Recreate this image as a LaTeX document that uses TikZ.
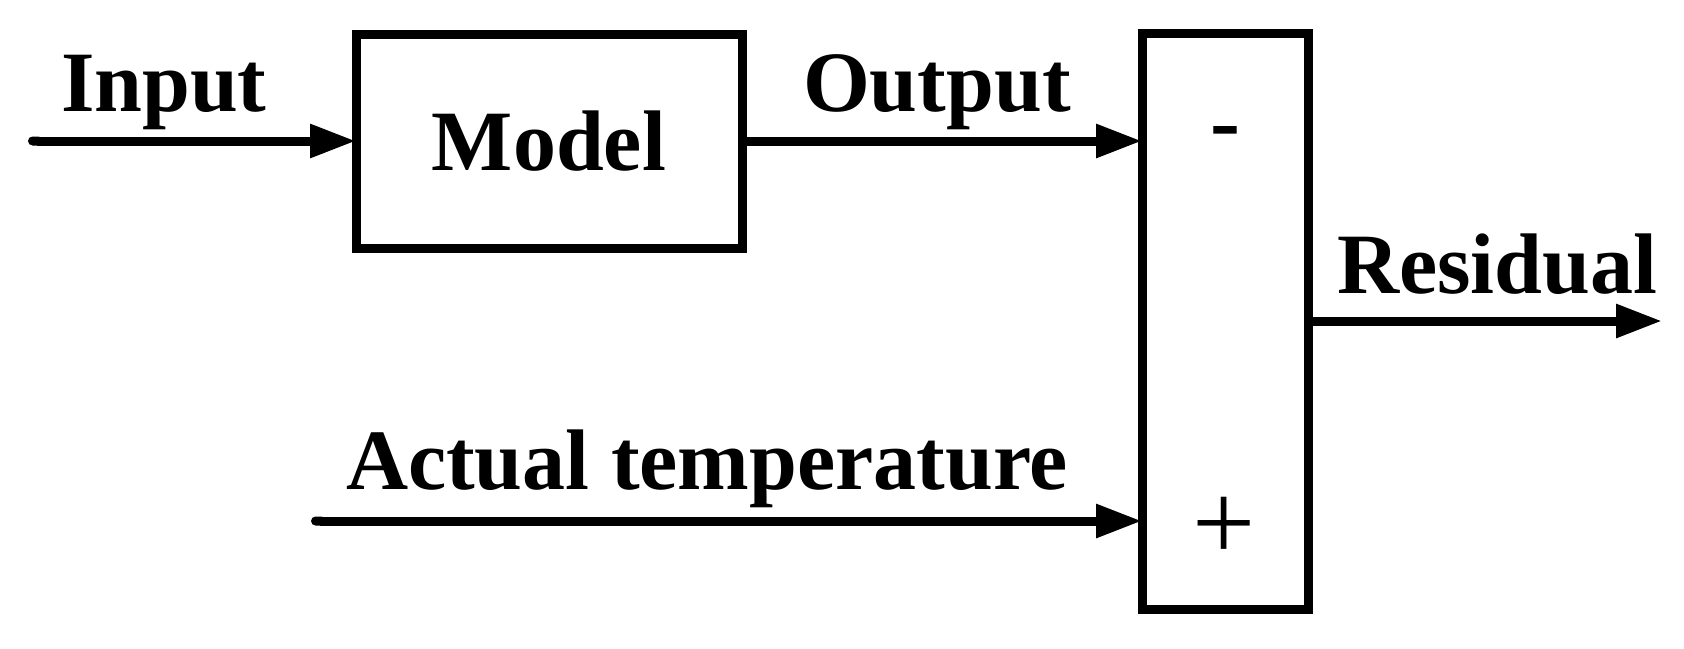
\documentclass[tikz,border=0pt]{standalone}
\usepackage{fontspec}
\setmainfont{Liberation Serif}
\usetikzlibrary{arrows.meta}
\begin{document}
\begin{tikzpicture}[x=1pt,y=-1pt,
  every node/.style={inner sep=0pt, outer sep=0pt},
  lbl/.style={font=\fontsize{86}{100}\selectfont\bfseries, anchor=base west},
  blk/.style={draw, line width=9pt, font=\fontsize{86}{100}\selectfont\bfseries},
  conn/.style={line width=9pt, -{Triangle[length=46pt,width=32pt]}},
  rconn/.style={line width=9pt, {Round Cap[]}-{Triangle[length=46pt,width=32pt]}}]
\useasboundingbox (0,0) rectangle (1684,648);
\node[blk, minimum width=386pt, minimum height=214pt] (model) at (549,141) {Model};
\node[blk, minimum width=166pt, minimum height=576pt] (sum) at (1225,321) {};
\coordinate (in) at (28,141);
\coordinate (act) at (311,521);
\coordinate (res) at (1662,321);
\draw[rconn] (in) -- (model.west);
\draw[conn] (model.east) -- (sum.west |- model.east);
\draw[rconn] (act) -- (sum.west |- act);
\draw[conn] (sum.east) -- (res);
\node[lbl] (tin) at (61,111) {Input};
\node[lbl] (tout) at (803,111) {Output};
\node[lbl] (tres) at (1337,293) {Residual};
\node[lbl] (tact) at (346,489) {Actual temperature};
\node[font=\fontsize{90}{100}\selectfont\bfseries] (minus) at (1225,139) {-};
\node[font=\fontsize{112}{120}\selectfont] (plus) at (1224,529) {+};
\end{tikzpicture}
\end{document}
